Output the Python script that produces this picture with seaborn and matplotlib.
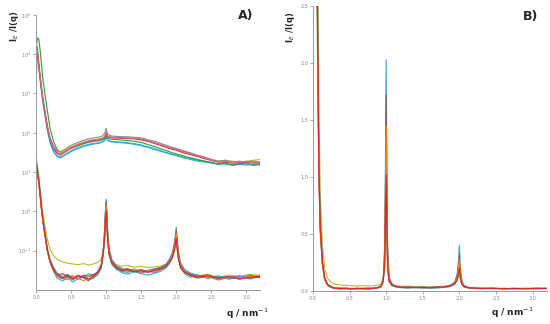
import pandas as pd
import seaborn as sns
import matplotlib
matplotlib.use("Agg")
import matplotlib.pyplot as plt
from matplotlib.ticker import FixedLocator, NullLocator, LogFormatterMathtext

# --- data ---
# upper set in panel A (log scale, offset)
q_up = [0.00, 0.02, 0.04, 0.06, 0.08, 0.10, 0.13, 0.16, 0.20, 0.25, 0.30, 0.35, 0.40, 0.50, 0.60,
        0.70, 0.80, 0.90, 0.95, 0.98, 1.00, 1.02, 1.05, 1.10, 1.20, 1.30, 1.40, 1.50, 1.60, 1.70,
        1.80, 1.90, 2.00, 2.10, 2.20, 2.30, 2.40, 2.50, 2.60, 2.70, 2.80, 2.90, 3.00, 3.10, 3.20]
up_teal = [17000, 9500, 4500, 2100, 1050, 560, 260, 120, 56, 33, 25, 23, 26, 33, 40, 46, 51, 54, 58, 64,
           76, 64, 60, 58, 56, 54, 51, 47, 42, 37, 33, 29, 26, 23, 21, 19, 18, 17, 16, 16, 15, 16, 15, 16, 15]
up_blue = [18000, 10000, 4800, 2200, 1100, 600, 280, 130, 60, 35, 26, 24, 27, 35, 42, 48, 53, 56, 60, 66,
           80, 66, 62, 60, 58, 56, 53, 49, 44, 39, 34, 30, 27, 24, 22, 20, 19, 17, 16, 17, 15, 16, 16, 15, 16]
up_green = [14000, 26000, 24000, 12000, 5000, 2200, 900, 380, 130, 60, 38, 30, 33, 40, 47, 54, 60, 63, 67, 72,
            85, 74, 70, 68, 66, 64, 61, 57, 50, 44, 38, 33, 29, 26, 23, 21, 19, 18, 16, 17, 15, 16, 17, 15, 16]
up_olive = [19000, 11500, 5200, 2500, 1250, 680, 310, 150, 72, 44, 34, 31, 35, 44, 52, 60, 66, 70, 74, 82,
            104, 84, 80, 77, 76, 75, 73, 69, 63, 56, 49, 43, 38, 34, 30, 27, 24, 21, 19, 20, 19, 18, 19, 20, 21]
up_gray = [1500, 15000, 6000, 2800, 1400, 750, 340, 160, 75, 46, 36, 33, 37, 48, 57, 66, 73, 78, 84, 100,
           130, 95, 86, 82, 80, 79, 77, 74, 67, 60, 52, 45, 40, 35, 31, 27, 24, 21, 19, 20, 18, 19, 18, 19, 18]
up_red = [22000, 11000, 5000, 2400, 1200, 650, 300, 140, 68, 40, 30, 27, 31, 41, 49, 57, 63, 67, 71, 79,
          98, 80, 76, 74, 73, 72, 70, 66, 60, 53, 46, 40, 36, 31, 28, 25, 22, 20, 18, 18, 17, 17, 18, 17, 17]
up_pink = [20000, 12000, 5500, 2600, 1300, 700, 320, 150, 70, 42, 32, 28, 32, 42, 50, 58, 64, 68, 72, 80,
           100, 82, 78, 76, 75, 74, 72, 70, 62, 55, 48, 42, 38, 33, 30, 26, 23, 20, 18, 19, 17, 18, 17, 18, 17]

# lower set: shown in log scale in A and linear in B
q_low = [0.00, 0.02, 0.04, 0.06, 0.08, 0.10, 0.13, 0.16, 0.20, 0.25, 0.30, 0.38, 0.45, 0.52, 0.60, 0.68,
         0.75, 0.82, 0.88, 0.93, 0.96, 0.98, 0.99, 1.00, 1.01, 1.02, 1.04, 1.08, 1.14, 1.22, 1.30, 1.40,
         1.50, 1.60, 1.70, 1.78, 1.85, 1.90, 1.94, 1.97, 1.99, 2.00, 2.01, 2.03, 2.06, 2.12, 2.20, 2.30,
         2.45, 2.60, 2.75, 2.90, 3.05, 3.20]
low_olive = [24, 14, 8.0, 3.6, 1.7, 0.85, 0.40, 0.20, 0.11, 0.075, 0.060, 0.052, 0.048, 0.046, 0.044, 0.047,
             0.043, 0.046, 0.050, 0.060, 0.10, 0.20, 0.40, 0.60, 0.38, 0.18, 0.085, 0.055, 0.045, 0.040, 0.042,
             0.038, 0.040, 0.037, 0.039, 0.041, 0.045, 0.052, 0.065, 0.090, 0.13, 0.15, 0.11, 0.060, 0.040,
             0.030, 0.026, 0.023, 0.025, 0.021, 0.024, 0.022, 0.025, 0.023]
low_teal = [20, 11, 6.0, 2.6, 1.15, 0.58, 0.25, 0.11, 0.052, 0.030, 0.020, 0.017, 0.021, 0.016, 0.019, 0.022,
            0.018, 0.020, 0.024, 0.035, 0.08, 0.22, 0.55, 0.90, 0.50, 0.20, 0.08, 0.045, 0.034, 0.028, 0.025,
            0.029, 0.026, 0.024, 0.027, 0.030, 0.036, 0.046, 0.062, 0.10, 0.17, 0.22, 0.14, 0.062, 0.036,
            0.026, 0.021, 0.024, 0.020, 0.022, 0.019, 0.021, 0.024, 0.020]
low_blue = [22, 12, 6.5, 2.8, 1.2, 0.62, 0.27, 0.12, 0.060, 0.038, 0.027, 0.022, 0.025, 0.020, 0.024, 0.021,
            0.026, 0.023, 0.030, 0.045, 0.12, 0.40, 1.10, 2.03, 1.05, 0.38, 0.12, 0.060, 0.042, 0.036, 0.031,
            0.034, 0.030, 0.032, 0.035, 0.038, 0.045, 0.060, 0.085, 0.15, 0.28, 0.40, 0.24, 0.10, 0.050,
            0.033, 0.027, 0.024, 0.020, 0.023, 0.019, 0.022, 0.020, 0.023]
low_purple = [16, 9, 5.0, 2.2, 1.0, 0.50, 0.22, 0.10, 0.050, 0.031, 0.022, 0.019, 0.023, 0.018, 0.022, 0.020,
              0.017, 0.024, 0.026, 0.038, 0.09, 0.27, 0.72, 1.27, 0.68, 0.25, 0.09, 0.048, 0.036, 0.030, 0.028,
              0.031, 0.027, 0.030, 0.028, 0.033, 0.038, 0.050, 0.068, 0.11, 0.19, 0.25, 0.16, 0.070, 0.040,
              0.028, 0.023, 0.020, 0.022, 0.018, 0.021, 0.023, 0.019, 0.022]
low_brown = [18, 10, 5.5, 2.5, 1.1, 0.55, 0.24, 0.11, 0.055, 0.034, 0.024, 0.026, 0.021, 0.023, 0.019, 0.024,
             0.022, 0.025, 0.028, 0.042, 0.10, 0.34, 0.95, 1.72, 0.90, 0.33, 0.11, 0.055, 0.040, 0.033, 0.035,
             0.030, 0.033, 0.029, 0.034, 0.036, 0.042, 0.055, 0.075, 0.13, 0.23, 0.32, 0.20, 0.085, 0.045,
             0.030, 0.025, 0.022, 0.024, 0.020, 0.022, 0.019, 0.023, 0.021]
low_orange = [17, 9.5, 5.2, 2.4, 1.05, 0.52, 0.23, 0.10, 0.052, 0.032, 0.023, 0.021, 0.018, 0.022, 0.020, 0.017,
              0.023, 0.021, 0.027, 0.040, 0.095, 0.30, 0.82, 1.45, 0.78, 0.29, 0.10, 0.050, 0.038, 0.032, 0.029,
              0.032, 0.028, 0.031, 0.030, 0.034, 0.040, 0.052, 0.072, 0.12, 0.21, 0.28, 0.18, 0.078, 0.042,
              0.029, 0.024, 0.021, 0.023, 0.019, 0.022, 0.020, 0.022, 0.024]
low_red = [19, 10.5, 5.8, 2.6, 1.1, 0.56, 0.24, 0.11, 0.054, 0.033, 0.025, 0.020, 0.024, 0.019, 0.023, 0.021,
           0.019, 0.022, 0.028, 0.040, 0.09, 0.25, 0.62, 1.02, 0.58, 0.22, 0.085, 0.050, 0.038, 0.031, 0.033,
           0.029, 0.031, 0.028, 0.032, 0.035, 0.040, 0.050, 0.066, 0.10, 0.16, 0.20, 0.13, 0.065, 0.038,
           0.028, 0.024, 0.021, 0.023, 0.020, 0.022, 0.019, 0.021, 0.022]

up_curves = {"teal": up_teal, "blue": up_blue, "green": up_green, "olive": up_olive,
             "gray": up_gray, "red": up_red, "pink": up_pink}
low_curves = {"olive": low_olive, "teal": low_teal, "blue": low_blue, "purple": low_purple,
              "brown": low_brown, "orange": low_orange, "red": low_red}
colors = {"teal": "#17becf", "blue": "#3a9fd8", "green": "#2ca02c", "olive": "#bcbd22",
          "gray": "#8c8c8c", "red": "#d62728", "pink": "#e0609a", "purple": "#9467bd",
          "brown": "#8c564b", "orange": "#ff7f0e"}


def long_table(q, curves):
    frames = [pd.DataFrame({"q": q, "I": v, "run": k}) for k, v in curves.items()]
    return pd.concat(frames, ignore_index=True)


df_up = long_table(q_up, up_curves)
df_low = long_table(q_low, low_curves)

sns.set_style("ticks")
plt.rcParams["font.family"] = ["DejaVu Sans"]

fig = plt.figure(figsize=(5.5, 3.24), dpi=100)
axA = fig.add_axes([0.0655, 0.105, 0.408, 0.849])
axB = fig.add_axes([0.569, 0.102, 0.426, 0.879])

# panel A: both sets on log scale
axA.set_yscale("log")
for df in (df_up, df_low):
    sns.lineplot(data=df, x="q", y="I", hue="run", palette=colors, estimator=None, sort=False,
                 legend=False, lw=0.8, ax=axA)
axA.set_ylim(1e-2, 1e5)
axA.yaxis.set_major_locator(FixedLocator([1e-1, 1e0, 1e1, 1e2, 1e3, 1e4, 1e5]))
axA.yaxis.set_major_formatter(LogFormatterMathtext())
axA.yaxis.set_minor_locator(NullLocator())

# panel B: lower set on linear scale
sns.lineplot(data=df_low, x="q", y="I", hue="run", palette=colors, estimator=None, sort=False,
             legend=False, lw=0.8, ax=axB)
axB.set_ylim(0, 2.5)
axB.set_yticks([0.0, 0.5, 1.0, 1.5, 2.0, 2.5])

for ax in (axA, axB):
    ax.set_xlim(0, 3.2)
    ax.set_xticks([0.0, 0.5, 1.0, 1.5, 2.0, 2.5, 3.0])
    ax.set_xlabel("")
    ax.set_ylabel("")
    ax.tick_params(labelsize=3.5, colors="#888888", length=2, width=0.5, pad=1.5)
    for s in ("left", "bottom"):
        ax.spines[s].set_color("#999999")
        ax.spines[s].set_linewidth(0.7)
    sns.despine(ax=ax)

# labels
for x, y in ((0.027, 0.92), (0.529, 0.915)):
    fig.text(x, y, "I$_E$ /I(q)", rotation=90, fontsize=6, fontweight="bold", ha="center", va="center")
fig.text(0.447, 0.953, "A)", fontsize=9, fontweight="bold", ha="center", va="center")
fig.text(0.965, 0.95, "B)", fontsize=9, fontweight="bold", ha="center", va="center")
fig.text(0.449, 0.031, "q / nm$^{-1}$", fontsize=6.5, fontweight="bold", ha="center", va="center")
fig.text(0.931, 0.034, "q / nm$^{-1}$", fontsize=6.5, fontweight="bold", ha="center", va="center")

fig.savefig("out.png", dpi=100)
